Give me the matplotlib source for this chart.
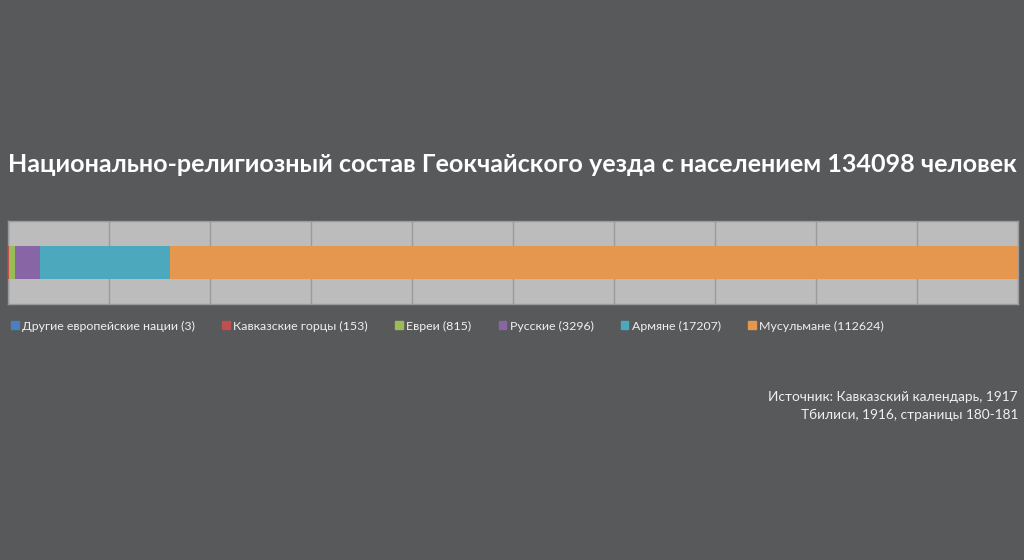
import numpy as np
import matplotlib as mpl
import matplotlib.pyplot as plt
from matplotlib.patches import Patch

mpl.rc('font', family=['Lato', 'DejaVu Sans'])

# --- data ---
groups = ['Другие европейские нации', 'Кавказские горцы', 'Евреи',
          'Русские', 'Армяне', 'Мусульмане']
counts = [3, 153, 815, 3296, 17207, 112624]
colors = ['#4a7fc0', '#c0504d', '#9bbb59', '#8866a6', '#4ba8bd', '#e5964f']
total = 134098
title = 'Национально-религиозный состав Геокчайского уезда с населением {0} человек'.format(total)
source = 'Источник: Кавказский календарь, 1917\nТбилиси, 1916, страницы 180-181'

bg = '#58595b'
fig = plt.figure(figsize=(10.24, 5.6), dpi=100, facecolor=bg)
ax = fig.add_axes([8/1024, 1-304/560, 1010/1024, 83/560])
ax.set_facecolor('#bcbcbc')

shares = np.array(counts) / total
left = 0.0
for g, s, c in zip(groups, shares, colors):
    ax.barh(0, s, left=left, height=0.4, color=c, edgecolor='none', zorder=3)
    left += s

ax.set_xlim(0, 1)
ax.set_ylim(-0.5, 0.5)
ax.set_xticks(np.arange(0, 1.01, 0.1))
ax.set_yticks([])
ax.tick_params(axis='x', length=0, labelbottom=False)
ax.grid(axis='x', color='#9a9a9a', lw=1, zorder=1)
for sp in ax.spines.values():
    sp.set_color('#9a9a9a')
    sp.set_linewidth(1)

fig.text(0.5, 1-164/560, title, ha='center', va='center', color='white',
         fontsize=18.1, fontweight='bold')

handles = [Patch(color=c, label='{0} ({1})'.format(g, n))
           for g, n, c in zip(groups, counts, colors)]
leg = fig.legend(handles=handles, ncol=6, loc='center left',
                 bbox_to_anchor=(0/1024, 1-326/560), frameon=False,
                 fontsize=8.9, handlelength=0.6, handleheight=0.6,
                 handletextpad=0.3, columnspacing=2.2, labelcolor='#f0f0f0')

fig.text(1018/1024, 1-406/560, source, ha='right', va='center', color='#f0f0f0',
         fontsize=9.85, linespacing=1.5)

fig.savefig('out.png', dpi=100, facecolor=bg)
